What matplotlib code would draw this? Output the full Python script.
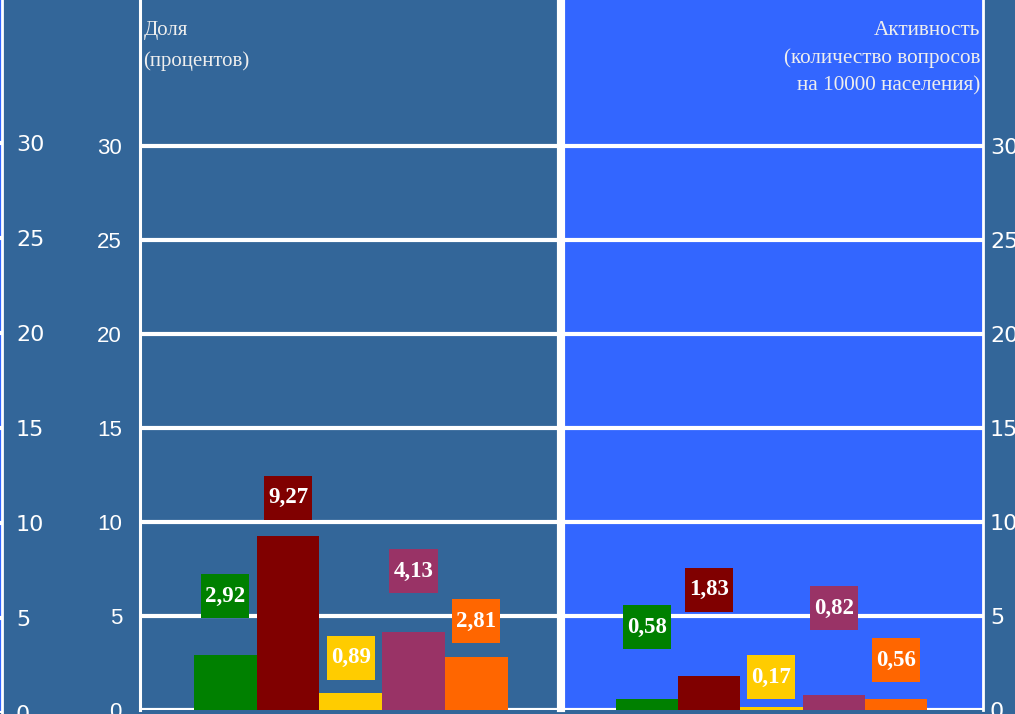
import matplotlib
matplotlib.use("Agg")
import matplotlib.pyplot as plt

# data
categories = ["c1", "c2", "c3", "c4", "c5"]
share = [2.92, 9.27, 0.89, 4.13, 2.81]
activity = [0.58, 1.83, 0.17, 0.82, 0.56]
share_labels = ["2,92", "9,27", "0,89", "4,13", "2,81"]
activity_labels = ["0,58", "1,83", "0,17", "0,82", "0,56"]
# where the label boxes sit (centre, in axis units)
share_label_y = [6.06, 11.28, 2.77, 7.39, 4.73]
activity_label_y = [4.4, 6.4, 1.75, 5.4, 2.66]
yticks = [0, 5, 10, 15, 20, 25, 30]

colors = ["#008000", "#800000", "#FFCC00", "#993366", "#FF6600"]
dark_bg = "#336699"
bright_bg = "#3366FF"

W, H = 1015, 714
fig = plt.figure(figsize=(W / 100, H / 100), dpi=100)
fig.patch.set_facecolor(dark_bg)


def px_axes(x0, x1, y_top, y_bottom):
    return fig.add_axes([x0 / W, (H - y_bottom) / H, (x1 - x0) / W, (y_bottom - y_top) / H])


def style(ax, face, top_val):
    ax.set_facecolor(face)
    ax.set_ylim(0, top_val)
    ax.set_yticks(yticks)
    ax.yaxis.grid(True, color="white", lw=3)
    ax.set_axisbelow(True)
    ax.set_xticks([])
    for s in ax.spines.values():
        s.set_visible(False)
    ax.tick_params(axis="y", length=0, colors="white", labelsize=16)
    for t in ax.get_yticklabels():
        t.set_fontfamily("Liberation Sans")


def draw_bars(ax, vals, labels, label_y):
    x = range(len(vals))
    ax.bar(x, vals, width=1.0, color=colors, zorder=3)
    box_h = 2.34
    ax.bar(x, [box_h] * len(vals), bottom=[y - box_h / 2 for y in label_y],
           width=0.77, color=colors, zorder=3)
    for i, (lab, y) in enumerate(zip(labels, label_y)):
        ax.text(i, y, lab, ha="center", va="center", color="white",
                fontsize=16.5, fontweight="bold", family="Liberation Serif", zorder=4)


# outer left strip (edge of a neighbouring panel)
ax0 = px_axes(-60, 2, 0, 713)
style(ax0, bright_bg, 713 / 19.0)
ax0.spines["right"].set_visible(True)
ax0.spines["right"].set_color("white")
ax0.spines["right"].set_linewidth(2)
ax0.yaxis.tick_right()
ax0.tick_params(axis="y", pad=10)

# left panel - share
ax1 = px_axes(140, 559, 0, 710)
style(ax1, dark_bg, 710 / 18.8)
ax1.set_xlim(-1.36, 5.32)
ax1.spines["left"].set_visible(True)
ax1.spines["left"].set_color("white")
ax1.spines["left"].set_linewidth(2.2)
ax1.spines["right"].set_visible(True)
ax1.spines["right"].set_color("white")
ax1.spines["right"].set_linewidth(3)
ax1.tick_params(axis="y", pad=13)
draw_bars(ax1, share, share_labels, share_label_y)
ax1.text(0.008, 0.97, "Доля\n(процентов)", transform=ax1.transAxes, ha="left", va="top",
         color="#EEEEEE", fontsize=15, family="Liberation Serif", linespacing=1.75)

# right panel - activity
ax2 = px_axes(563, 983, 0, 710)
style(ax2, bright_bg, 710 / 18.8)
ax2.set_xlim(-1.35, 5.4)
ax2.spines["left"].set_visible(True)
ax2.spines["left"].set_color("white")
ax2.spines["left"].set_linewidth(3)
ax2.spines["right"].set_visible(True)
ax2.spines["right"].set_color("white")
ax2.spines["right"].set_linewidth(2)
ax2.yaxis.tick_right()
ax2.tick_params(axis="y", pad=5)
draw_bars(ax2, activity, activity_labels, activity_label_y)
ax2.text(0.993, 0.97, "Активность\n(количество вопросов\nна 10000 населения)",
         transform=ax2.transAxes, ha="right", va="top", color="#EEEEEE",
         fontsize=15.3, family="Liberation Serif", linespacing=1.55)

fig.savefig("out.png", dpi=100, facecolor=fig.get_facecolor())
